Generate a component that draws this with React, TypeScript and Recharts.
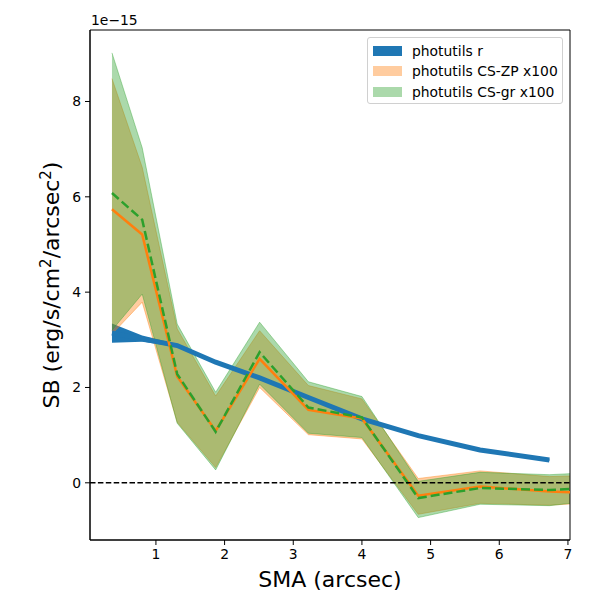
import {
  ComposedChart,
  Area,
  Line,
  XAxis,
  YAxis,
  ReferenceLine,
  ReferenceArea,
} from "recharts";

const sma = [0.36, 0.8, 1.31, 1.87, 2.51, 3.22, 4.0, 4.82, 5.72, 6.73, 7.83];

const rMid = [3.14, 3.02, 2.88, 2.53, 2.2, 1.79, 1.34, 0.99, 0.69, 0.48, null];
const rLow = [2.94, 2.96, 2.85, 2.51, 2.18, 1.77, 1.32, 0.97, 0.67, 0.46, null];
const rHigh = [3.34, 3.09, 2.91, 2.55, 2.22, 1.81, 1.36, 1.01, 0.71, 0.5, null];

const zpMid = [5.74, 5.21, 2.23, 1.09, 2.6, 1.53, 1.35, -0.27, -0.08, -0.18, -0.25];
const zpLow = [3.12, 3.79, 1.27, 0.32, 2.0, 1.01, 0.92, -0.66, -0.43, -0.47, -0.38];
const zpHigh = [8.48, 6.62, 3.23, 1.82, 3.19, 2.04, 1.76, 0.09, 0.25, 0.13, 0.18];

const grMid = [6.08, 5.52, 2.28, 1.07, 2.74, 1.58, 1.37, -0.32, -0.11, -0.15, -0.08];
const grLow = [3.2, 3.96, 1.25, 0.27, 2.07, 1.04, 0.95, -0.73, -0.45, -0.48, -0.3];
const grHigh = [9.02, 7.03, 3.33, 1.9, 3.37, 2.12, 1.81, 0.03, 0.22, 0.17, 0.25];

const xTicks = [1, 2, 3, 4, 5, 6, 7];
const yTicks = [0, 2, 4, 6, 8];

const legendItems = [
  { label: "photutils r", color: "#1f77b4", opacity: 1 },
  { label: "photutils CS-ZP x100", color: "#ff7f0e", opacity: 0.4 },
  { label: "photutils CS-gr x100", color: "#2ca02c", opacity: 0.4 },
];

const rows = sma.map((x, i) => ({
  x,
  r: rMid[i],
  rBand: rMid[i] == null ? null : [rLow[i], rHigh[i]],
  zp: zpMid[i],
  zpBand: [zpLow[i], zpHigh[i]],
  gr: grMid[i],
  grBand: [grLow[i], grHigh[i]],
}));

const FONT = "DejaVu Sans, sans-serif";
const tickStyle = { fill: "#000", fontSize: 13.9, fontFamily: FONT };

export default function App() {
  return (
    <div style={{ position: "absolute", left: 0, top: 0, width: 600, height: 600, background: "#fff", fontFamily: FONT }}>
      <ComposedChart width={600} height={600} data={rows} margin={{ top: 30, right: 30, bottom: 0, left: 0 }}>
        <XAxis
          dataKey="x"
          type="number"
          domain={[0.04, 7.03]}
          allowDataOverflow
          ticks={xTicks}
          height={60}
          tick={tickStyle}
          tickSize={5}
          tickMargin={4}
          stroke="#000"
          label={({ viewBox }: any) => (
            <text x={viewBox.x + viewBox.width / 2} y={viewBox.y + 47} textAnchor="middle" fontSize={22} fontFamily={FONT} fill="#000">
              SMA (arcsec)
            </text>
          )}
        />
        <YAxis
          type="number"
          domain={[-1.2, 9.5]}
          allowDataOverflow
          ticks={yTicks}
          width={90}
          tick={tickStyle}
          tickSize={5}
          tickMargin={4}
          stroke="#000"
          label={({ viewBox }: any) => {
            const cx = 59;
            const cy = viewBox.y + viewBox.height / 2;
            return (
              <text x={cx} y={cy} transform={`rotate(-90 ${cx} ${cy})`} textAnchor="middle" fontSize={22} fontFamily={FONT} fill="#000">
                SB (erg/s/cm
                <tspan fontSize={15} dy={-8}>2</tspan>
                <tspan dy={8}>/arcsec</tspan>
                <tspan fontSize={15} dy={-8}>2</tspan>
                <tspan dy={8}>)</tspan>
              </text>
            );
          }}
        />
        <Area
          dataKey="rBand"
          type="linear"
          fill="#1f77b4"
          fillOpacity={1}
          stroke="none"
          isAnimationActive={false}
        />
        <Line dataKey="r" type="linear" stroke="#1f77b4" strokeWidth={5} dot={false} isAnimationActive={false} />
        <Area
          dataKey="zpBand"
          type="linear"
          fill="#ff7f0e"
          fillOpacity={0.4}
          stroke="#ff7f0e"
          strokeOpacity={0.4}
          strokeWidth={1}
          isAnimationActive={false}
        />
        <Area
          dataKey="grBand"
          type="linear"
          fill="#2ca02c"
          fillOpacity={0.4}
          stroke="#2ca02c"
          strokeOpacity={0.4}
          strokeWidth={1}
          isAnimationActive={false}
        />
        <Line dataKey="zp" type="linear" stroke="#ff7f0e" strokeWidth={2.5} dot={false} isAnimationActive={false} />
        <Line dataKey="gr" type="linear" stroke="#2ca02c" strokeWidth={2.5} strokeDasharray="9 4" dot={false} isAnimationActive={false} />
        <ReferenceLine y={0} stroke="#000" strokeWidth={1.5} strokeDasharray="5.5 2.4" zIndex={1000} />
        <ReferenceArea x1={0.04} x2={7.03} y1={-1.2} y2={9.5} fill="none" stroke="#000" strokeWidth={1} fillOpacity={0} />
      </ComposedChart>
      <div style={{ position: "absolute", left: 91, top: 12, fontSize: 13.9, color: "#000" }}>1e−15</div>
      <div
        style={{
          position: "absolute",
          left: 367,
          top: 37,
          width: 194,
          height: 65,
          border: "1px solid #d0d0d0",
          borderRadius: 3,
          background: "rgba(255,255,255,0.8)",
          fontSize: 13.9,
        }}
      >
        {legendItems.map((it, i) => (
          <div key={it.label} style={{ position: "absolute", left: 5, top: 7 + i * 20.3, display: "flex", alignItems: "center", height: 12 }}>
            <div style={{ width: 29, height: 10, background: it.color, opacity: it.opacity }} />
            <span style={{ marginLeft: 10, whiteSpace: "nowrap", lineHeight: "12px" }}>{it.label}</span>
          </div>
        ))}
      </div>
    </div>
  );
}
